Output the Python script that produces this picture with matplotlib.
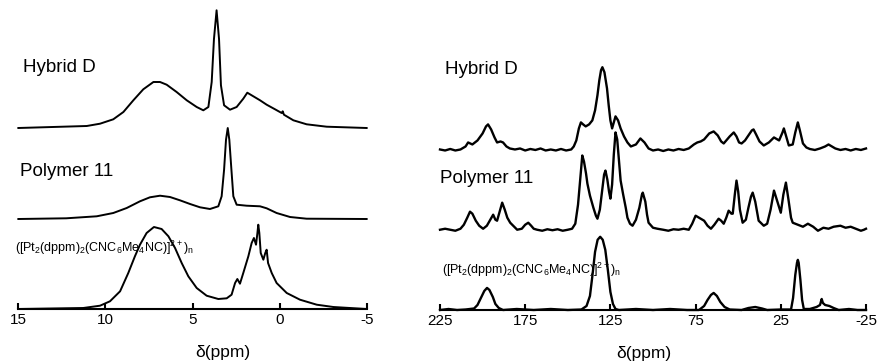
import matplotlib
matplotlib.use("Agg")
import matplotlib.pyplot as plt
import numpy as np

plt.rcParams['font.family'] = ['Liberation Sans', 'DejaVu Sans']
plt.rcParams['mathtext.fontset'] = 'custom'
plt.rcParams['mathtext.rm'] = 'Liberation Sans'
plt.rcParams['mathtext.it'] = 'Liberation Sans'
plt.rcParams['mathtext.default'] = 'regular'

# ---- 1H spectra (left); heights above each trace's own baseline ----
h_hyb_ppm = [14.98, 11.06, 10.30, 9.54, 8.96, 8.39, 7.82, 7.24, 6.86, 6.48, 5.91, 5.33,
             4.76, 4.38, 4.09, 3.90, 3.77, 3.62, 3.48, 3.37, 3.19, 2.85, 2.47, 2.09,
             1.86, 1.61, 1.13, 0.75, 0.27, -0.11, -0.17, -0.24, -0.78, -1.54, -2.69, -4.98]
h_hyb_int = [0, 2, 4.3, 8.7, 16, 27.7, 38.7, 46, 46, 43.3, 36, 27.7,
             21, 17.7, 21, 46, 89, 117.7, 89, 42.7, 22.7, 18.3, 21, 29.3,
             35.3, 32.7, 27.7, 23.3, 18.7, 15, 16.7, 13.3, 7.7, 3.7, 1.3, 0]

h_pol_ppm = [14.98, 12.24, 10.49, 9.54, 8.77, 8.01, 7.44, 6.86, 6.29, 5.72, 5.14, 4.57,
             4.00, 3.52, 3.33, 3.19, 3.08, 2.98, 2.89, 2.77, 2.66, 2.47, 1.90, 1.13,
             0.75, 0.18, -0.59, -1.54, -4.98]
h_pol_int = [0, 0.7, 2.7, 6, 11, 17.7, 21.7, 23.3, 22, 18.7, 15, 11.7,
             10, 12.7, 22.7, 49.3, 79.3, 91, 79.3, 49.3, 22.7, 14.3, 13.3, 12.7,
             10.7, 6, 2, 0.3, 0]

h_pt_ppm = [14.98, 11.26, 10.30, 9.73, 9.15, 8.68, 8.30, 8.01, 7.63, 7.21, 6.77, 6.38,
            6.00, 5.62, 5.24, 4.76, 4.19, 3.52, 3.04, 2.76, 2.56, 2.43, 2.28, 2.09,
            1.80, 1.61, 1.48, 1.36, 1.28, 1.23, 1.17, 1.09, 0.94, 0.83, 0.75, 0.67,
            0.46, 0.18, -0.40, -1.16, -2.12, -3.07, -4.98]
h_pt_int = [0, 1, 3.3, 7.7, 17.7, 36, 52.7, 64.3, 76, 82, 80, 72.7,
            61, 46, 32.7, 21, 13.3, 10, 10.7, 14.3, 26, 30, 25.3, 36,
            52.7, 66, 71, 64.3, 76, 84.3, 76, 56, 49.3, 56, 59.3, 46,
            36, 26, 16, 9.3, 4.3, 2, 0]

# ---- 13C spectra (right) ----
c_hyb_ppm = [225, 222, 219, 216, 213, 210, 208.5, 206, 203, 200, 198, 196.8, 195, 193,
             191.5, 189.5, 188, 186, 184, 181, 178, 175, 172, 169, 166, 163, 160, 157,
             154, 151, 148, 146.5, 145, 143.5, 142.3, 141, 139.5, 137.5, 135.6, 134,
             132.6, 131.5, 130.5, 129.7, 128.5, 127, 126, 125, 124, 123, 122, 120.5,
             119, 117, 115, 113, 110, 107.4, 105, 102.6, 100, 97, 94, 91, 88, 85, 82,
             79, 76, 74, 72, 70, 67, 64.4, 62, 60, 58.5, 57, 55, 52.6, 51, 49.5, 48,
             46, 44, 42, 41, 39.5, 37.5, 35, 32, 29, 27, 26, 24, 23.2, 22, 20.3, 18,
             16.5, 15, 13.8, 12, 10, 8, 5, 2, -1, -3, -5, -7, -10, -13, -16, -19, -22,
             -25]
c_hyb_int = [1, 0, 1.5, 0, 1, 4, 8, 6, 10, 17, 24, 26, 21, 13,
             8, 9, 8, 4, 2, 1, 2, 0, 1.5, 0.5, 2, 0, 1, 0,
             1.5, 0, 1, 4, 10, 22, 28, 26, 24, 26, 30, 40,
             55, 70, 80, 83, 78, 62, 45, 30, 22, 28, 34, 30,
             22, 14, 8, 4, 6, 12, 8, 2, 0, 1, -0.5, 1, 0, 1.5, 0.5,
             2, 6, 8, 9, 11, 17, 19, 15, 9, 7, 10, 14, 18, 14, 8, 7,
             10, 15, 20, 21, 16, 9, 5, 8, 13, 11, 10, 18, 22, 15, 5, 6,
             18, 28, 20, 7, 3, 1.5, 0.5, 2, 4, 6, 4, 2, 0.5, 1.5, 0, 1.5, 0.5,
             2]

c_pol_ppm = [225, 222, 219, 216, 213, 211, 209, 207.4, 206, 204, 202, 199.7, 197.5,
             195.5, 193.8, 192.5, 191.5, 190, 188.5, 187, 185.5, 183.8, 181.5, 179.7,
             177, 175, 173.2, 171.5, 170, 168, 165, 162, 159, 156, 153, 150, 147.5,
             145.6, 144, 142.5, 141.5, 140.5, 139.3, 138.5, 137, 135, 133.5, 132.6,
             131.2, 129.8, 128.7, 127.9, 126.8, 125.8, 125, 124, 123, 122, 121, 120,
             119, 117.5, 116, 115, 113.5, 112, 110, 108, 106.5, 106, 104.5, 103.5,
             102.6, 100, 97.4, 94, 91, 88, 85, 82, 79, 77, 75, 73, 70, 68, 66, 64,
             61.5, 60, 58.5, 57, 55.6, 54, 53.2, 52, 51, 50, 49, 47.4, 45.5, 44, 42.5,
             41.5, 40, 38, 35, 33, 31, 29, 27, 25, 23.5, 22, 20.5, 19, 18, 15, 12, 9.1,
             6, 3.2, 0, -3, -6, -10, -13, -16, -19, -22, -23.8, -25]
c_pol_int = [0, 1, 0, -1, 1, 5, 12, 18, 16, 9, 4, 1, 4,
             10, 15, 10, 9, 18, 27, 20, 12, 7, 3, 0,
             1, 5, 7, 4, 1, 0, -1, 0.5, -0.5, 0.5, -1, 0, 1,
             6, 25, 55, 74, 68, 56, 46, 34, 22, 14, 11,
             20, 40, 55, 59, 50, 38, 31, 45, 75, 97, 90, 70,
             49, 35, 22, 12, 6, 4, 10, 22, 35, 37, 28, 15,
             7, 2, 1, 0, -1, 0.5, 0, 1, 0, 6, 14, 12, 9, 4, 1, 5,
             11, 9, 6, 12, 19, 16, 16, 35, 49, 38, 20, 7, 10, 22, 33,
             37, 28, 9, 4, 6, 20, 39, 28, 17, 35, 47, 30, 12, 7, 5, 3, 6,
             3, -1, 2, 1, 3, 4, 2, 3, 1, -1, 0, 1]

c_pt_ppm = [225, 220, 215, 210, 205, 203, 201, 199, 197.4, 196, 194, 192.5, 190.5,
            188, 180, 170, 160, 150, 142, 139, 137, 135.5, 134, 132.5, 131, 129.5,
            128, 126.5, 125, 123.5, 122, 120, 110, 100, 90, 80, 73, 70, 68, 66, 64.4,
            62.5, 60.5, 58, 55, 48, 44, 40, 36, 33, 25, 19, 17.8, 16.5, 15.5, 15,
            14.5, 13.5, 12.5, 11.5, 8, 4, 2, 1, 0.3, -1, -3.5, -6, -9, -15, -20, -25]
c_pt_int = [0, 1, 0, 0.5, 1.5, 5, 12, 19, 22, 20, 13, 6, 2,
            0, 1, 0, 1, 0, 0.5, 4, 14, 35, 58, 70, 73, 70,
            60, 40, 18, 6, 1, 0, 1, 0, 1, 0, 0, 4, 10, 15, 17,
            14, 8, 3, 0.5, 0, 2, 3, 1.5, 0, 0.5, 0.5, 12, 35, 47, 50,
            47, 30, 10, 1, 1, 3, 5, 11, 7, 5, 4, 2, 0, 1, 0, 0]

labels = ['Hybrid D', 'Polymer 11', r'([Pt$_2$(dppm)$_2$(CNC$_6$Me$_4$NC)]$^{2+}$)$_n$']

fig = plt.figure(figsize=(8.79, 3.64), dpi=100)
ax1 = fig.add_axes([18/879, 55/364, 349/879, 309/364])
ax2 = fig.add_axes([440/879, 54/364, 426/879, 310/364])

for ax in (ax1, ax2):
    for s in ('top', 'left', 'right'):
        ax.spines[s].set_visible(False)
    ax.spines['bottom'].set_linewidth(1.5)
    ax.set_yticks([])
    ax.set_ylim(0, 309)
    ax.tick_params(axis='x', direction='in', length=4, width=1.5, labelsize=11, pad=3)
    ax.set_xlabel('δ(ppm)', fontsize=12.5)

kw = dict(color='black', clip_on=False, solid_joinstyle='round')
ax1.plot(h_pt_ppm, np.array(h_pt_int) + 0, lw=1.4, **kw)
ax1.plot(h_pol_ppm, np.array(h_pol_int) + 90, lw=1.4, **kw)
ax1.plot(h_hyb_ppm, np.array(h_hyb_int) + 181, lw=1.4, **kw)
ax1.set_xlim(15, -5)
ax1.set_xticks([15, 10, 5, 0, -5])
ax1.set_xticklabels(['15', '10', '5', '0', '-5'])
ax1.xaxis.set_label_coords(0.587, -0.115)

ax2.plot(c_pt_ppm, np.array(c_pt_int) + 0, lw=1.7, **kw)
ax2.plot(c_pol_ppm, np.array(c_pol_int) + 80, lw=1.7, **kw)
ax2.plot(c_hyb_ppm, np.array(c_hyb_int) + 159, lw=1.7, **kw)
ax2.set_xlim(225, -25)
ax2.set_xticks([225, 175, 125, 75, 25, -25])
ax2.set_xticklabels(['225', '175', '125', '75', '25', '-25'])
ax2.xaxis.set_label_coords(0.479, -0.115)

ax1.text(14.7, 242, labels[0], fontsize=13.5, va='center', ha='left')
ax1.text(14.9, 137, labels[1], fontsize=13.5, va='center', ha='left')
ax1.text(15.2, 61, labels[2], fontsize=9, va='center', ha='left')
ax2.text(222, 240, labels[0], fontsize=13.5, va='center', ha='left')
ax2.text(225, 131, labels[1], fontsize=13.5, va='center', ha='left')
ax2.text(224, 40, labels[2], fontsize=9, va='center', ha='left')

fig.savefig('out.png', dpi=100)
